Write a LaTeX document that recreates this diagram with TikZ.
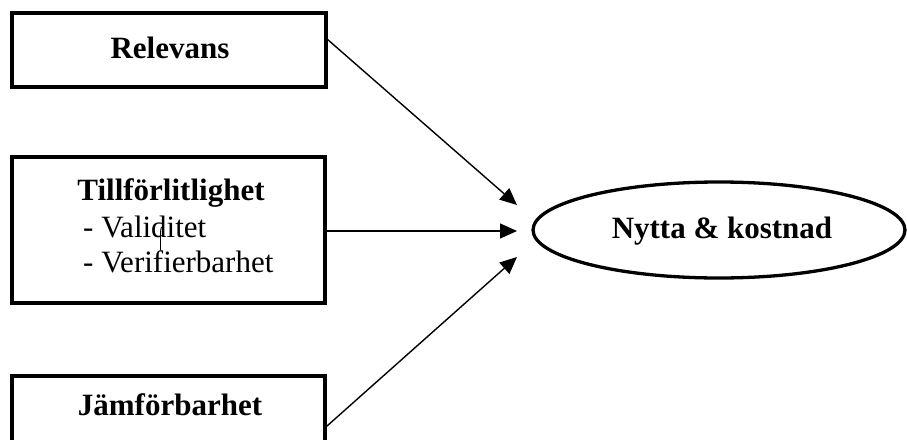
\documentclass[tikz,border=0pt]{standalone}
\usepackage{fontspec}
\setmainfont{Liberation Serif}
\usetikzlibrary{arrows.meta,shapes.geometric}
\begin{document}
\begin{tikzpicture}[x=1pt,y=-1pt,
  framebox/.style={draw, line width=3.3pt, inner sep=0pt},
  conn/.style={line width=1.4pt, -{Triangle[length=17pt,width=15pt]}},
  headtext/.style={font=\fontsize{31}{36}\selectfont\bfseries, inner sep=0pt, anchor=base},
  itemtext/.style={font=\fontsize{31}{36}\selectfont, inner sep=0pt, anchor=base west}]
\useasboundingbox (0,0) rectangle (907,439);

% input boxes
\node[framebox, minimum width=314pt, minimum height=74pt] (rel) at (169,50) {};
\node[framebox, minimum width=313pt, minimum height=146pt] (till) at (168.5,230) {};
\node[framebox, minimum width=313pt, minimum height=90pt] (jam) at (168.5,421) {};

% box labels
\node[headtext] (relT) at (170,58) {Relevans};
\node[headtext] (tillT) at (171,200) {Tillförlitlighet};
\node[itemtext] (valT) at (83,237) {- Validitet};
\node[itemtext] (verT) at (83,272) {- Verifierbarhet};
\node[headtext] (jamT) at (170,415) {Jämförbarhet};
\draw[line width=0.9pt] (163.5,226) .. controls (161,227) and (160.5,229) .. (160.5,232) -- (160.5,250);

% outcome ellipse
\node[ellipse, draw, line width=3.3pt, minimum width=372pt, minimum height=96pt, inner sep=0pt] (nk) at (719,230) {};
\node[headtext] (nkT) at (722,238) {Nytta \& kostnad};

% connector end points
\coordinate (s1) at (327,39);
\coordinate (s2) at (326,231);
\coordinate (s3) at (327,426);
\coordinate (t1) at (517,205);
\coordinate (t2) at (517,231);
\coordinate (t3) at (517,257);

\draw[conn] (s1) -- (t1);
\draw[conn] (s2) -- (t2);
\draw[conn] (s3) -- (t3);
\end{tikzpicture}
\end{document}
